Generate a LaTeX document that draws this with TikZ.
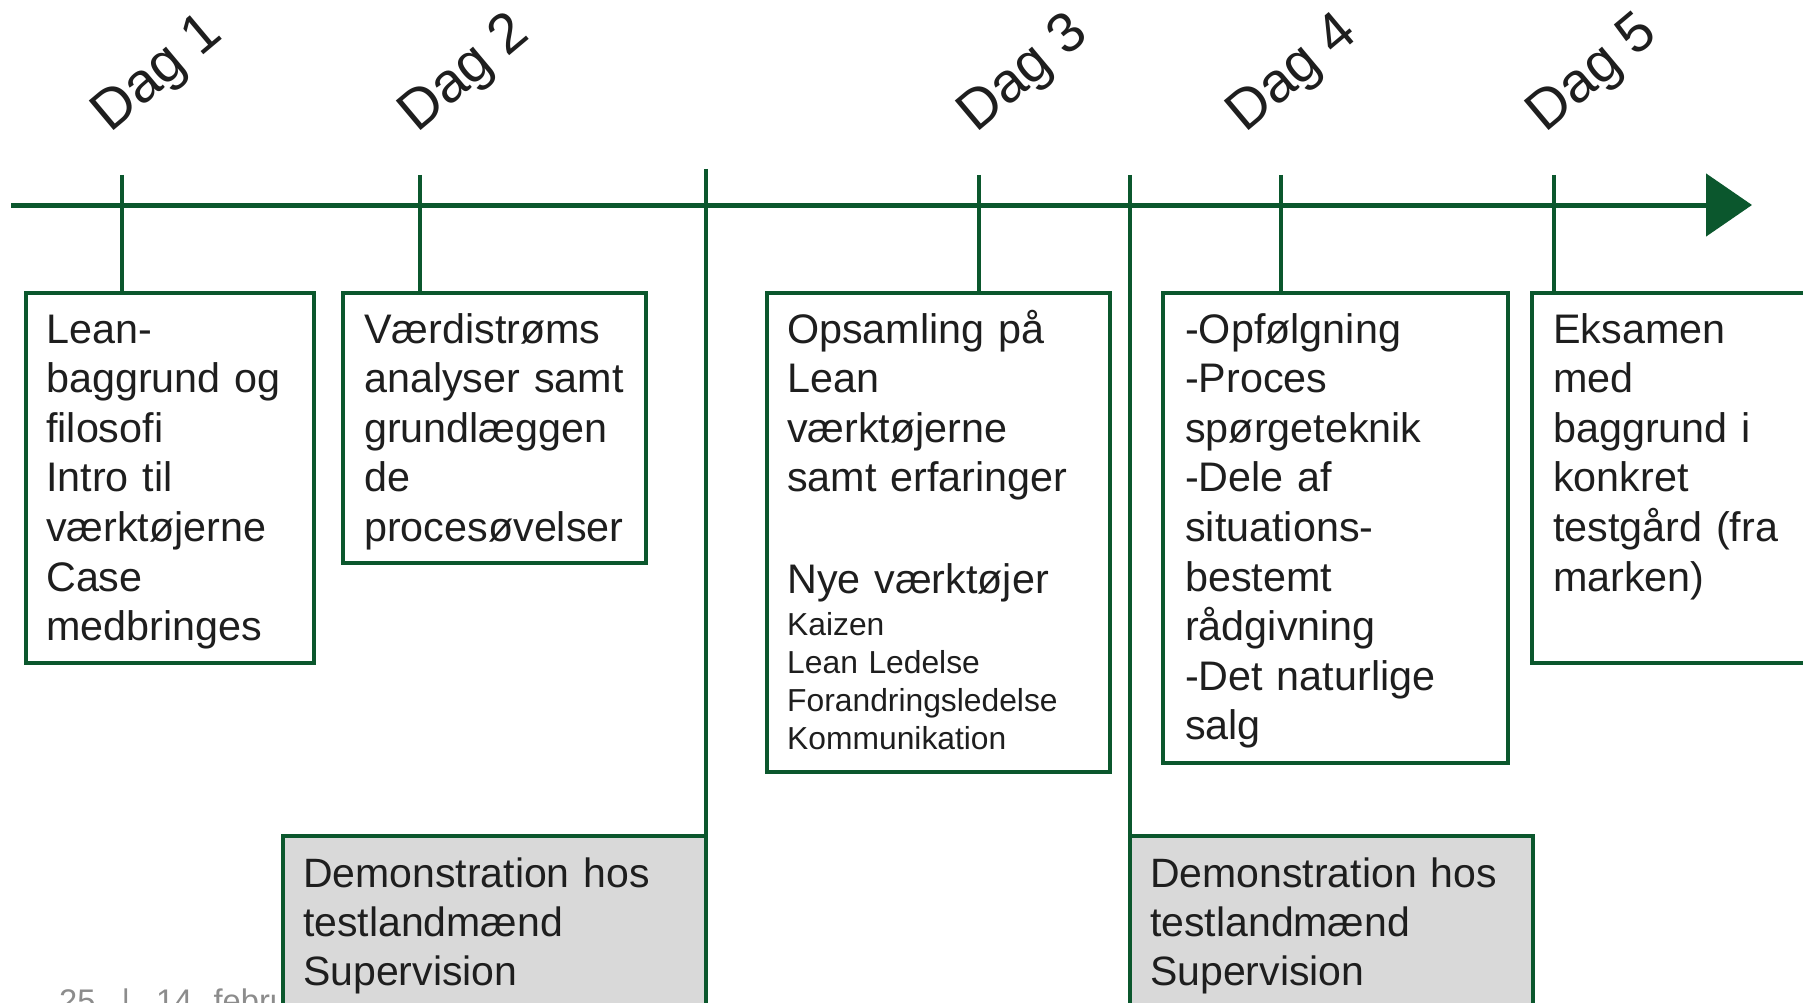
\documentclass[tikz,border=0pt]{standalone}
\usepackage{fontspec}
\setmainfont{Liberation Sans}
\usetikzlibrary{arrows.meta}
\definecolor{tlgreen}{RGB}{11,87,45}
\definecolor{txtgray}{RGB}{30,30,30}
\definecolor{demofill}{RGB}{217,217,217}
\definecolor{footgray}{RGB}{140,140,140}
\begin{document}
\begin{tikzpicture}[x=1pt,y=-1pt,
  mainline/.style={draw=tlgreen, line width=5pt, -{Triangle[length=46pt,width=62pt]}},
  tickline/.style={draw=tlgreen, line width=4.5pt},
  daybox/.style={draw=tlgreen, line width=4.5pt, fill=white, inner sep=0pt, outer sep=0pt, anchor=north west},
  demobox/.style={daybox, fill=demofill},
  boxtext/.style={anchor=base west, inner sep=0pt, text width=430pt, align=left, text=txtgray, font=\fontsize{41.3}{49.6}\selectfont},
  demotext/.style={boxtext, font=\fontsize{41}{49.3}\selectfont},
  smalltext/.style={boxtext, font=\fontsize{31.8}{38.3}\selectfont},
  daylabel/.style={anchor=base west, inner sep=0pt, rotate=40, text=txtgray, font=\fontsize{56}{60}\selectfont},
  foottext/.style={anchor=base west, inner sep=0pt, text=footgray, font=\fontsize{32.7}{36}\selectfont}
]
\useasboundingbox (0,0) rectangle (1803,1003);
\clip (0,0) rectangle (1803,1003);
\fill[white] (0,0) rectangle (1803,1003);

% footer (partly hidden behind the first demo box)
\node[foottext] (foot) at (59,1012) {25\hspace{26pt}|\hspace{26pt}14. februar};

% day labels
\node[daylabel] (dag1) at (110,134) {Dag 1};
\node[daylabel] (dag2) at (417,134) {Dag 2};
\node[daylabel] (dag3) at (976,134) {Dag 3};
\node[daylabel] (dag4) at (1245,134) {Dag 4};
\node[daylabel] (dag5) at (1545,134) {Dag 5};

% time axis
\coordinate (axstart) at (11,205);
\coordinate (axend) at (1752,205);
\draw[mainline] (axstart) -- (axend);

% tick tops
\coordinate (t1) at (122,175);
\coordinate (t2) at (420,175);
\coordinate (t3) at (979,175);
\coordinate (t4) at (1281,175);
\coordinate (t5) at (1554,175);
\coordinate (L1) at (706,169);
\coordinate (L2) at (1130,175);

% demo boxes
\node[demobox, minimum width=423pt, minimum height=220pt] (d1) at (283,836) {};
\node[demobox, minimum width=403pt, minimum height=220pt] (d2) at (1130,836) {};
\draw[tickline] (L1) -- (d1.north east);
\draw[tickline] (L2) -- (d2.north west);

% day boxes
\node[daybox, minimum width=288pt, minimum height=370pt] (b1) at (26,293) {};
\node[daybox, minimum width=303pt, minimum height=270pt] (b2) at (343,293) {};
\node[daybox, minimum width=343pt, minimum height=479pt] (b3) at (767,293) {};
\node[daybox, minimum width=345pt, minimum height=470pt] (b4) at (1163,293) {};
\node[daybox, minimum width=330pt, minimum height=370pt] (b5) at (1532,293) {};

\draw[tickline] (t1) -- (t1 |- b1.north);
\draw[tickline] (t2) -- (t2 |- b2.north);
\draw[tickline] (t3) -- (t3 |- b3.north);
\draw[tickline] (t4) -- (t4 |- b4.north);
\draw[tickline] (t5) -- (t5 |- b5.north);

% texts
\node[boxtext] (tx1) at (46,343) {Lean-\\baggrund og\\filosofi\\Intro til\\værktøjerne\\Case\\medbringes};
\node[boxtext] (tx2) at (364,343) {Værdistrøms\\analyser samt\\grundlæggen\\de\\procesøvelser};
\node[boxtext] (tx3) at (787,343) {Opsamling på\\Lean\\værktøjerne\\samt erfaringer\\[52.4pt]Nye værktøjer};
\node[smalltext] (tx3b) at (787,635) {Kaizen\\Lean Ledelse\\Forandringsledelse\\Kommunikation};
\node[boxtext] (tx4) at (1185,343) {-Opfølgning\\-Proces\\spørgeteknik\\-Dele af\\situations-\\bestemt\\rådgivning\\-Det naturlige\\salg};
\node[boxtext] (tx5) at (1553,343) {Eksamen\\med\\baggrund i\\konkret\\testgård (fra\\marken)};
\node[demotext] (txd1) at (303,887) {Demonstration hos\\testlandmænd\\Supervision};
\node[demotext] (txd2) at (1150,887) {Demonstration hos\\testlandmænd\\Supervision};
\end{tikzpicture}
\end{document}
